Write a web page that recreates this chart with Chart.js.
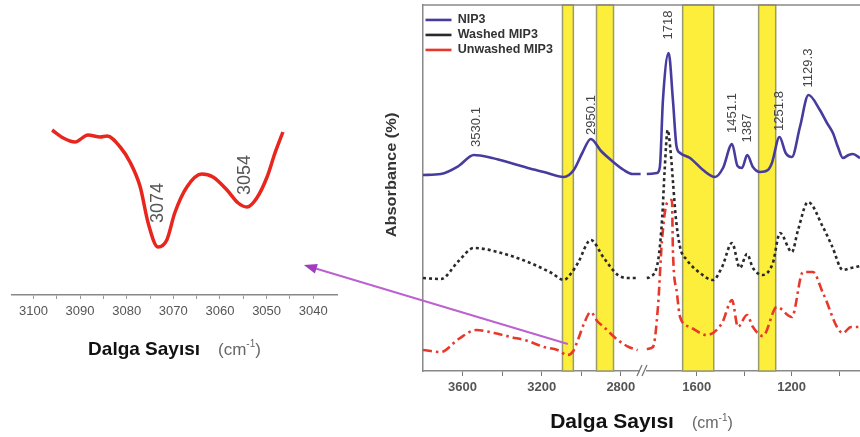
<!DOCTYPE html>
<html lang="tr">
<head>
<meta charset="UTF-8">
<title>FTIR - NIP3 / MIP3</title>
<script src="https://cdn.jsdelivr.net/npm/chart.js"></script>
<style>
  body { margin: 0; background: #fff; overflow: hidden; }
  #wrap { position: relative; width: 860px; height: 437px; }
  #wrap canvas { position: absolute; left: 0; top: 0; }
</style>
</head>
<body>
<div id="wrap">
  <canvas id="insetChart" width="860" height="437"></canvas>
  <canvas id="ftirChart" width="860" height="437"></canvas>
</div>
<script>
// ---- inset (3100-3040 cm-1, unwashed MIP3) ----
const insetWave = [3096.0, 3093.6, 3091.1, 3088.3, 3085.7, 3084.2, 3081.4, 3079.3, 3077.1, 3075.4, 3073.3, 3071.4,
                   3069.7, 3067.1, 3063.9, 3061.5, 3058.5, 3056.1, 3054.2, 3052.1, 3049.9, 3048.2, 3046.5];
const insetAbs = [165, 157, 153, 160, 158, 159, 148, 133, 108, 72, 48, 55, 82, 108, 121, 118, 105, 92, 88, 97, 118, 142, 163];
const insetTicks = [3100, 3095, 3090, 3085, 3080, 3075, 3070, 3065, 3060, 3055, 3050, 3045, 3040];
const insetPeakText = ['3074', '3054'];
const insetPeakWave = [3073.3, 3054.6];
const insetPeakAbs = [92, 120];

// ---- main spectra, [wavenumber, absorbance] ----
const seriesNames = ['NIP3', 'Washed MIP3', 'Unwashed MIP3'];
const nip3High = [[3800,196],[3710,197],[3620,205],[3543,216],[3450,213],[3356,208],[3270,203],[3189,199],[3088,194],
                  [3038,201],[2995,218],[2952,232],[2900,220],[2850,211],[2785,201],[2740,197],[2700,197]];
const nip3Low = [[1810,197],[1767,198],[1755,204],[1742,271],[1718,318],[1700,271],[1685,225],[1670,218],[1628,213],
                 [1573,201],[1523,194],[1489,203],[1451,227],[1428,205],[1409,203],[1387,216],[1363,204],[1333,199],
                 [1300,201],[1283,208],[1251,234],[1225,218],[1199,214],[1165,244],[1129,276],[1081,261],[1051,248],
                 [1026,238],[1005,224],[984,213],[960,216],[942,217],[912,213]];
const washedHigh = [[3800,93],[3710,92],[3620,110],[3543,123],[3422,119],[3270,109],[3150,98],[3088,91],[3050,98],
                    [3017,108],[2952,131],[2886,113],[2815,96],[2760,93],[2715,93]];
const washedLow = [[1810,93],[1797,94],[1762,111],[1745,154],[1735,200],[1722,241],[1710,220],[1700,190],[1688,154],
                   [1670,124],[1641,111],[1586,98],[1531,91],[1493,104],[1451,128],[1418,103],[1388,117],[1363,103],
                   [1321,96],[1279,108],[1249,138],[1199,119],[1173,141],[1131,169],[1068,144],[1030,125],[984,101],
                   [950,103],[912,105]];
const unwashedHigh = [[3800,21],[3710,19],[3620,32],[3530,41],[3440,38],[3356,34],[3270,30],[3189,24],[3120,21],
                      [3070,16],[3040,20],[3017,31],[2985,48],[2952,59],[2920,50],[2886,44],[2815,31],[2760,24],[2715,21]];
const unwashedLow = [[1810,22],[1784,24],[1763,64],[1746,131],[1725,168],[1704,171],[1700,121],[1683,78],[1670,54],
                     [1628,44],[1557,36],[1493,48],[1451,71],[1426,44],[1388,56],[1363,44],[1321,35],[1262,64],
                     [1199,54],[1152,99],[1110,99],[1068,78],[984,38],[950,44],[912,44]];

const highTicks = [3600, 3400, 3200, 3000, 2800];
const lowTicks = [1600, 1400, 1200, 1000];
const labeledTicks = [3600, 3200, 2800, 1600, 1200];

const bandFrom = [3095, 2923, 1659, 1339];
const bandTo = [3040, 2837, 1528, 1267];

const peakText = ['3530.1', '2950.1', '1718', '1451.1', '1387', '1251.8', '1129.3'];
const peakWave = [3530.1, 2950.1, 1718, 1451.1, 1387, 1251.8, 1129.3];
const peakAbs = [244, 256, 346, 258, 243, 260, 303];

// arrow: from the main chart (3068 cm-1) to the inset
const arrowFrom = [3068, 27];
const arrowTo = [3042, 30];

const FONT = '"Liberation Sans", Arial, sans-serif';

function vText(ctx, txt, x, y, font, color, stretch) {
  ctx.save();
  ctx.translate(x, y);
  ctx.rotate(-Math.PI / 2);
  if (stretch) ctx.scale(stretch, 1);
  ctx.font = font;
  ctx.fillStyle = color;
  ctx.textAlign = 'center';
  ctx.textBaseline = 'middle';
  ctx.fillText(txt, 0, 0);
  ctx.restore();
}

function axisTitle(ctx, cx, base, size, unitSize) {
  const bold = `bold ${size}px ${FONT}`;
  const unit = `${unitSize}px ${FONT}`;
  const sup = `${Math.round(unitSize * 0.6)}px ${FONT}`;
  ctx.save();
  ctx.textAlign = 'left';
  ctx.textBaseline = 'alphabetic';
  ctx.font = bold; const w1 = ctx.measureText('Dalga Sayısı').width;
  ctx.font = unit; const wa = ctx.measureText('(cm').width; const wc = ctx.measureText(')').width;
  ctx.font = sup; const wb = ctx.measureText('-1').width;
  const gap = 18;
  let x = cx - (w1 + gap + wa + wb + wc) / 2;
  ctx.fillStyle = '#111'; ctx.font = bold; ctx.fillText('Dalga Sayısı', x, base);
  x += w1 + gap;
  ctx.fillStyle = '#666'; ctx.font = unit; ctx.fillText('(cm', x, base); x += wa;
  ctx.font = sup; ctx.fillText('-1', x, base - unitSize * 0.45); x += wb;
  ctx.font = unit; ctx.fillText(')', x, base);
  ctx.restore();
}

const noPad = s => { s.paddingLeft = 0; s.paddingRight = 0; s.paddingTop = 0; s.paddingBottom = 0; };

// ---------- inset chart ----------
const insetDecor = {
  id: 'insetDecor',
  afterDraw(chart) {
    const {ctx, chartArea, scales} = chart;
    insetPeakText.forEach((t, i) => {
      vText(ctx, t, scales.x.getPixelForValue(insetPeakWave[i]), scales.y.getPixelForValue(insetPeakAbs[i]),
            `18px ${FONT}`, '#555');
    });
    axisTitle(ctx, (chartArea.left + chartArea.right) / 2, 355, 19, 17);
  }
};

const insetChart = new Chart(document.getElementById('insetChart'), {
  type: 'line',
  data: {
    datasets: [{
      data: insetWave.map((w, i) => ({x: w, y: insetAbs[i]})),
      borderColor: '#e8261e',
      borderWidth: 3.5,
      pointRadius: 0,
      cubicInterpolationMode: 'monotone'
    }]
  },
  options: {
    responsive: false,
    animation: false,
    events: [],
    layout: {padding: {left: 12, right: 523, top: 110, bottom: 117}},
    plugins: {legend: {display: false}, tooltip: {enabled: false}},
    scales: {
      x: {
        type: 'linear', reverse: true, min: 3034.9, max: 3104.6,
        afterBuildTicks: s => { s.ticks = insetTicks.map(v => ({value: v})); },
        afterFit: s => { s.height = 25; noPad(s); },
        ticks: {
          autoSkip: false, maxRotation: 0, padding: 5, color: '#555',
          font: {family: FONT, size: 13},
          callback: v => (v % 10 === 0 ? String(v) : '')
        },
        grid: {drawOnChartArea: false, tickLength: 4, color: '#999'},
        border: {color: '#888', width: 1.5}
      },
      y: {display: false, min: 0, max: 185}
    }
  },
  plugins: [insetDecor]
});

// ---------- main chart ----------
const looks = [
  {color: '#463c9e', dash: []},
  {color: '#2a2a2a', dash: [3, 3]},
  {color: '#e8382c', dash: [9, 4, 2.5, 4]}
];

function makeSet(i, pts, axis) {
  return {
    label: seriesNames[i],
    data: pts.map(([x, y]) => ({x, y})),
    xAxisID: axis,
    borderColor: looks[i].color,
    backgroundColor: looks[i].color,
    borderDash: looks[i].dash,
    borderWidth: 2.6,
    pointRadius: 0,
    cubicInterpolationMode: 'monotone'
  };
}

const datasets = [];
[nip3High, washedHigh, unwashedHigh].forEach((s, i) => datasets.push(makeSet(i, s, 'xHigh')));
[nip3Low, washedLow, unwashedLow].forEach((s, i) => datasets.push(makeSet(i, s, 'xLow')));

const bands = {
  id: 'bands',
  beforeDatasetsDraw(chart) {
    const {ctx, chartArea, scales} = chart;
    ctx.save();
    bandFrom.forEach((w0, i) => {
      const sc = w0 > 2000 ? scales.xHigh : scales.xLow;
      const x0 = sc.getPixelForValue(w0), x1 = sc.getPixelForValue(bandTo[i]);
      ctx.fillStyle = '#fcee3a';
      ctx.fillRect(x0, chartArea.top, x1 - x0, chartArea.bottom - chartArea.top);
      ctx.strokeStyle = '#9a9a70';
      ctx.lineWidth = 1.5;
      ctx.strokeRect(x0, chartArea.top, x1 - x0, chartArea.bottom - chartArea.top);
    });
    ctx.restore();
  },
  afterDatasetsDraw(chart) {
    const {ctx, scales} = chart;
    peakText.forEach((t, i) => {
      const sc = peakWave[i] > 2000 ? scales.xHigh : scales.xLow;
      vText(ctx, t, sc.getPixelForValue(peakWave[i]), scales.y.getPixelForValue(peakAbs[i]), `13px ${FONT}`, '#444');
    });
  }
};

const frame = {
  id: 'frame',
  afterDraw(chart) {
    const {ctx, chartArea, scales} = chart;
    ctx.save();
    // top border
    ctx.strokeStyle = '#888';
    ctx.lineWidth = 1.5;
    ctx.beginPath();
    ctx.moveTo(chartArea.left, chartArea.top);
    ctx.lineTo(chartArea.right, chartArea.top);
    ctx.stroke();
    // axis break
    const bx = scales.xHigh.right, by = chartArea.bottom;
    ctx.fillStyle = '#fff';
    ctx.fillRect(bx - 3, by - 2, 6, 4);
    ctx.strokeStyle = '#777';
    ctx.lineWidth = 1.3;
    ctx.beginPath();
    ctx.moveTo(bx - 6, by + 5); ctx.lineTo(bx - 1, by - 6);
    ctx.moveTo(bx - 1, by + 5); ctx.lineTo(bx + 4, by - 6);
    ctx.stroke();
    ctx.restore();

    vText(ctx, 'Absorbance (%)', chartArea.left - 31, 175, `bold 14px ${FONT}`, '#333', 1.17);
    axisTitle(ctx, (chartArea.left + chartArea.right) / 2, 428, 21, 16);

    // arrow to the inset
    const x0 = scales.xHigh.getPixelForValue(arrowFrom[0]), y0 = scales.y.getPixelForValue(arrowFrom[1]);
    const x1 = insetChart.scales.x.getPixelForValue(arrowTo[0]), y1 = insetChart.scales.y.getPixelForValue(arrowTo[1]);
    const ang = Math.atan2(y1 - y0, x1 - x0);
    ctx.save();
    ctx.strokeStyle = '#bb62cf';
    ctx.fillStyle = '#a23cbc';
    ctx.lineWidth = 2;
    ctx.beginPath();
    ctx.moveTo(x0, y0);
    ctx.lineTo(x1 - 8 * Math.cos(ang), y1 - 8 * Math.sin(ang));
    ctx.stroke();
    ctx.translate(x1, y1);
    ctx.rotate(ang);
    ctx.beginPath();
    ctx.moveTo(0, 0);
    ctx.lineTo(-13, -5);
    ctx.lineTo(-13, 5);
    ctx.closePath();
    ctx.fill();
    ctx.restore();
  }
};

function bottomAxis(min, max, weight, ticks) {
  return {
    type: 'linear', position: 'bottom', stack: 'wn', stackWeight: weight,
    reverse: true, min: min, max: max,
    afterBuildTicks: s => { s.ticks = ticks.map(v => ({value: v})); },
    afterFit: s => { s.height = 30; noPad(s); },
    ticks: {
      autoSkip: false, maxRotation: 0, padding: 4, color: '#555',
      font: {family: FONT, size: 13, weight: 'bold'},
      callback: v => (labeledTicks.includes(v) ? String(v) : '')
    },
    grid: {drawOnChartArea: false, tickLength: 5, color: '#777'},
    border: {color: '#888', width: 1.5}
  };
}

new Chart(document.getElementById('ftirChart'), {
  type: 'line',
  data: {datasets: datasets},
  options: {
    responsive: false,
    animation: false,
    events: [],
    layout: {padding: {left: 423, right: 0, top: 5, bottom: 36}},
    plugins: {
      tooltip: {enabled: false},
      legend: {
        position: 'chartArea',
        align: 'start',
        title: {display: true, text: ' ', padding: {top: 4, bottom: 0}, font: {size: 6}},
        labels: {
          filter: item => item.datasetIndex < 3,
          usePointStyle: true,
          pointStyle: 'line',
          pointStyleWidth: 26,
          boxHeight: 12,
          padding: 2.5,
          color: '#333',
          font: {family: FONT, size: 12.5, weight: 'bold'}
        }
      }
    },
    scales: {
      xHigh: bottomAxis(2688, 3800, 220, highTicks),
      xLow: bottomAxis(912, 1826, 217, lowTicks),
      y: {
        min: 0, max: 366,
        ticks: {display: false},
        grid: {display: false},
        border: {color: '#888', width: 1.5},
        afterFit: s => { s.width = 0; noPad(s); }
      }
    }
  },
  plugins: [bands, frame]
});
</script>
</body>
</html>
